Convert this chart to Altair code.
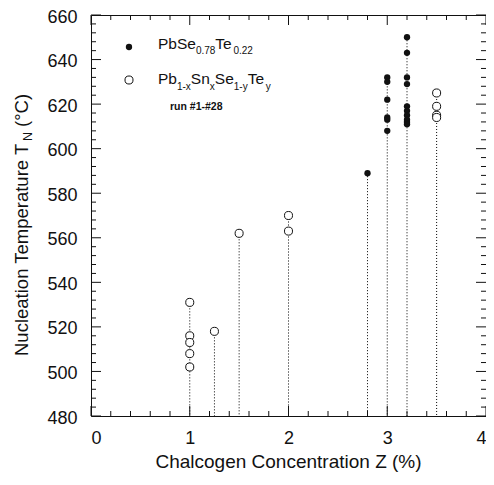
import altair as alt
import pandas as pd

# ---- data ----
filled_z = [2.8, 3.0, 3.0, 3.0, 3.0, 3.0, 3.0, 3.2, 3.2, 3.2, 3.2, 3.2, 3.2, 3.2, 3.2, 3.2, 3.2]
filled_t = [589, 632, 630, 622, 614, 613, 608, 650, 643, 632, 629, 619, 617, 615, 613, 612, 611]
open_z = [1.0, 1.0, 1.0, 1.0, 1.0, 1.25, 1.5, 2.0, 2.0, 3.5, 3.5, 3.5, 3.5]
open_t = [531, 516, 513, 508, 502, 518, 562, 570, 563, 625, 619, 615, 614]

x_major = [0, 1, 2, 3, 4]
x_minor = [0.2, 0.4, 0.6, 0.8, 1.2, 1.4, 1.6, 1.8, 2.2, 2.4, 2.6, 2.8, 3.2, 3.4, 3.6, 3.8]
y_major = [480, 500, 520, 540, 560, 580, 600, 620, 640, 660]
y_minor = [v for v in range(484, 660, 4) if v % 20 != 0]

x_title = "Chalcogen Concentration Z (%)"
y_title_parts = ["Nucleation Temperature T", "N", "(°C)"]
legend1_parts = ["PbSe", "0.78", "Te", "0.22"]
legend2_parts = ["Pb", "1-x", "Sn", "x", "Se", "1-y", "Te", "y"]
legend_note = "run #1-#28"

# ---- layout ----
FONT = "Liberation Sans"
W, H = 395, 401
INK = "#111111"
XS = alt.Scale(domain=[0, 4], nice=False, zero=False)
YS = alt.Scale(domain=[480, 660], nice=False, zero=False)
AX_X = alt.Axis(values=x_major, format="d", labelFont=FONT, labelFontSize=18, labelColor=INK,
                labelPadding=13, ticks=False, tickSize=0, domain=False, grid=False, title=None)
AX_Y = alt.Axis(values=y_major, format="d", labelFont=FONT, labelFontSize=18, labelColor=INK,
                labelPadding=14, labelOffset=2, ticks=False, tickSize=0, domain=False, grid=False,
                title=None)

ARIAL = {"P": 667, "b": 556, "S": 667, "e": 556, "T": 611, "n": 556, ".": 278, "-": 333,
         "x": 500, "y": 500, "N": 722, "u": 556, "c": 500, "l": 222, "a": 556, "t": 278,
         "i": 222, "o": 556, " ": 278, "m": 833, "p": 556, "r": 333, "(": 333, ")": 333,
         "°": 400, "C": 722}


def text_width(s, size):
    return sum(ARIAL.get(ch, 556) for ch in s) * size / 1000.0


df = pd.DataFrame({
    "Z": filled_z + open_z,
    "T": filled_t + open_t,
    "series": ["filled"] * len(filled_z) + ["open"] * len(open_z),
})

one = alt.Data(values=[{"a": 1}])


def txt(s, x, y, size, angle=0, weight="normal", align="left"):
    kw = dict(text=s, font=FONT, fontSize=size, fontWeight=weight, align=align,
              baseline="alphabetic", color=INK)
    if angle:
        kw["angle"] = angle
    return alt.Chart(one).mark_text(**kw).encode(x=alt.value(x), y=alt.value(y))


base = alt.Chart(df)

drops = base.transform_aggregate(Tmax="max(T)", groupby=["Z"]).mark_rule(
    color="#000000", strokeWidth=1, strokeDash=[1, 2]
).encode(
    x=alt.X("Z:Q", scale=XS, axis=AX_X),
    y=alt.Y("Tmax:Q", scale=YS, axis=AX_Y),
    y2=alt.datum(480),
)

layers = [drops]

# inward ticks on all four sides
for vals, ln in ((y_major, 10), (y_minor, 5)):
    d = alt.Chart(pd.DataFrame({"v": vals}))
    for x0, x1 in ((0, ln), (W - ln, W)):
        layers.append(d.mark_rule(color=INK, strokeWidth=1).encode(
            y=alt.Y("v:Q", scale=YS, axis=AX_Y), x=alt.value(x0), x2=alt.value(x1)))
for vals, ln in ((x_major, 10), (x_minor, 5)):
    d = alt.Chart(pd.DataFrame({"v": vals}))
    for y0, y1 in ((H - ln, H), (0, ln)):
        layers.append(d.mark_rule(color=INK, strokeWidth=1).encode(
            x=alt.X("v:Q", scale=XS, axis=AX_X), y=alt.value(y0), y2=alt.value(y1)))

OPEN_SIZE, FILLED_SIZE = 65, 40
open_pts = base.transform_filter(alt.datum.series == "open").mark_point(
    shape="circle", fill="white", stroke=INK, strokeWidth=1, size=OPEN_SIZE, opacity=1,
    filled=False
).encode(x=alt.X("Z:Q", scale=XS, axis=AX_X), y=alt.Y("T:Q", scale=YS, axis=AX_Y))
filled_pts = base.transform_filter(alt.datum.series == "filled").mark_circle(
    color=INK, size=FILLED_SIZE, opacity=1
).encode(x=alt.X("Z:Q", scale=XS, axis=AX_X), y=alt.Y("T:Q", scale=YS, axis=AX_Y))
layers += [open_pts, filled_pts]

# legend symbols
layers.append(alt.Chart(one).mark_circle(color=INK, size=FILLED_SIZE, opacity=1).encode(
    x=alt.value(38), y=alt.value(32)))
layers.append(alt.Chart(one).mark_point(shape="circle", fill="white", stroke=INK, strokeWidth=1,
                                        size=OPEN_SIZE, opacity=1, filled=False).encode(
    x=alt.value(38), y=alt.value(65)))

# legend texts with subscripts
MAIN, SUB = 15.5, 10


def rich(parts, x0, y0, sub_shift):
    out = []
    x = x0
    for i, p in enumerate(parts):
        is_sub = i % 2 == 1
        size = SUB if is_sub else MAIN
        out.append(txt(p, x, y0 + (sub_shift if is_sub else 0), size))
        x += text_width(p, size)
    return out


layers += rich(legend1_parts, 67, 34, 5)
layers += rich(legend2_parts, 67, 69, 5.5)
layers.append(txt(legend_note, 79, 95, 10.5, weight="bold"))

# x title
layers.append(txt(x_title, W / 2, 453, 19, align="center"))

# y title (rotated, with subscript)
YT, YTS = 18.5, 12.5
y0 = 341
bx = -63
w1 = text_width(y_title_parts[0], YT)
w2 = text_width(y_title_parts[1], YTS)
wsp = text_width(" ", YT)
layers.append(txt(y_title_parts[0], bx, y0, YT, angle=270))
layers.append(txt(y_title_parts[1], bx + 4, y0 - w1, YTS, angle=270))
layers.append(txt(y_title_parts[2], bx, y0 - w1 - w2 - wsp, YT, angle=270))

chart = alt.layer(*layers).properties(
    width=W, height=H,
    autosize=alt.AutoSizeParams(type="none"),
    padding={"left": 83, "top": 7, "right": 0, "bottom": 56},
).configure_view(stroke=INK, strokeWidth=1)

chart.save("out.html", embed_options={"renderer": "svg", "actions": False})
